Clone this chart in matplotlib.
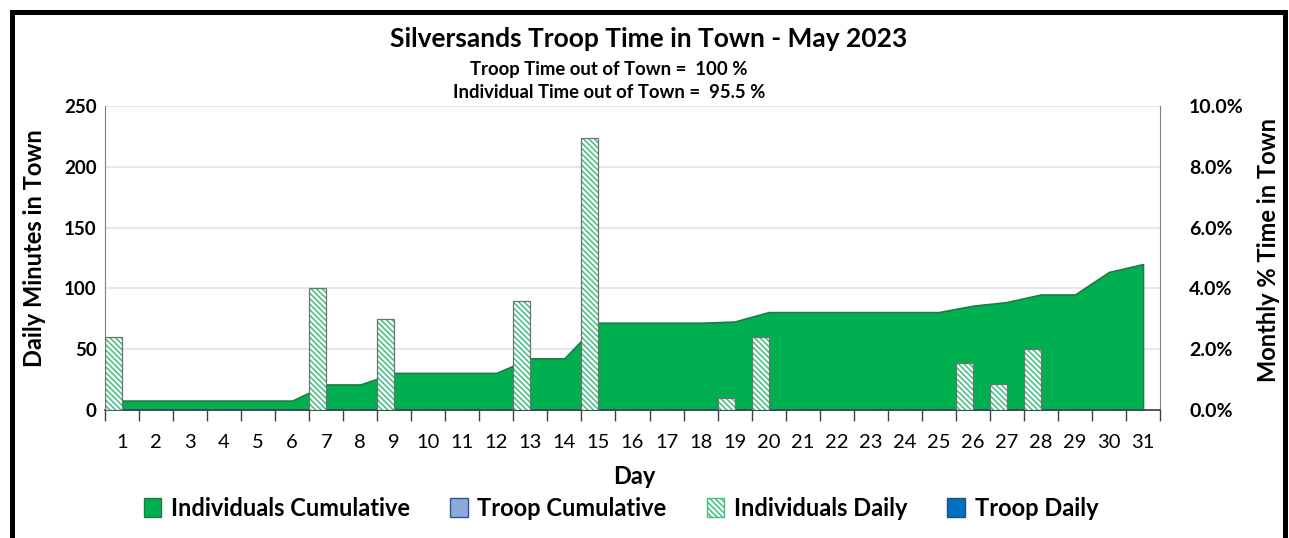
import matplotlib
matplotlib.use("Agg")
import matplotlib.pyplot as plt
from matplotlib.patches import Patch
import numpy as np

days = list(range(1, 32))
individuals_daily = [60, 0, 0, 0, 0, 0, 100, 0, 75, 0, 0, 0, 90, 0, 224, 0, 0, 0, 10, 60,
                     0, 0, 0, 0, 0, 39, 21, 50, 0, 0, 0]
troop_daily = [0] * 31
individuals_cum_pct = [0.31, 0.31, 0.31, 0.31, 0.31, 0.31, 0.84, 0.84, 1.22, 1.22, 1.22, 1.22,
                       1.70, 1.70, 2.87, 2.87, 2.87, 2.87, 2.91, 3.22, 3.22, 3.22, 3.22, 3.22,
                       3.22, 3.43, 3.55, 3.80, 3.80, 4.54, 4.80]
troop_cum_pct = [0] * 31
left_ticks = [0, 50, 100, 150, 200, 250]
right_ticks = [0, 2, 4, 6, 8, 10]

FONT = "Lato"
plt.rcParams['font.family'] = [FONT, 'DejaVu Sans']
plt.rcParams['hatch.linewidth'] = 1.1

W, H = 1289, 538
fig = plt.figure(figsize=(W / 100, H / 100), dpi=100)

# black frame
for xs, ys in (([12, 12], [538, 12]), ([12, 1285], [12, 12]), ([1285, 1285], [12, 538])):
    fig.add_artist(plt.Line2D([v / W for v in xs], [1 - v / H for v in ys],
                              transform=fig.transFigure, color='black', lw=3.6,
                              solid_capstyle='projecting'))

ax_l, ax_r, ax_t, ax_b = 105, 1160, 106, 410
rect = [ax_l / W, 1 - ax_b / H, (ax_r - ax_l) / W, (ax_b - ax_t) / H]
ax2 = fig.add_axes(rect)             # secondary (percentage), drawn underneath
ax = fig.add_axes(rect, sharex=ax2)  # primary (minutes), on top
ax.patch.set_visible(False)

x = np.arange(len(days))
green = '#00B050'
dark_green = '#1E7B45'
hatch_green = '#3EC07F'

# area (secondary axis)
ax2.fill_between(x, individuals_cum_pct, 0, color=green, edgecolor=dark_green, lw=1.2, zorder=2)
ax2.fill_between(x, troop_cum_pct, 0, color='#8EA9DB', lw=0, zorder=3)
ax2.set_ylim(0, 10)
ax2.set_yticks(right_ticks)
ax2.set_yticklabels([f"{v:.1f}%" for v in right_ticks])
ax2.yaxis.tick_right()
ax2.grid(axis='y', color='#E4E4E4', lw=1.2, zorder=0)
ax2.set_axisbelow(True)

# bars (primary axis)
ax.bar(x - 0.25, individuals_daily, width=0.5, facecolor='white', edgecolor=hatch_green,
       hatch='\\\\\\\\\\\\', lw=0, zorder=3)
ax.bar(x - 0.25, individuals_daily, width=0.5, facecolor='none', edgecolor='#707070',
       lw=0.9, zorder=4)
ax.bar(x + 0.25, troop_daily, width=0.5, color='#0070C0', lw=0, zorder=3)
ax.set_ylim(0, 250)
ax.set_yticks(left_ticks)
ax.set_xlim(-0.5, len(days) - 0.5)
ax.set_xticks(x)
ax.set_xticklabels([str(d) for d in days])
ax.set_xticks(np.arange(-0.5, len(days)), minor=True)

for a in (ax, ax2):
    for s in a.spines.values():
        s.set_visible(False)
ax.spines['left'].set_visible(True)
ax.spines['left'].set_color('#808080')
ax.spines['bottom'].set_visible(True)
ax.spines['bottom'].set_color('#3A4A5A')
ax.spines['bottom'].set_linewidth(1.3)
ax2.spines['right'].set_visible(True)
ax2.spines['right'].set_color('#808080')

ax.tick_params(axis='x', which='major', length=0, pad=17, labelsize=14.5)
ax.tick_params(axis='x', which='minor', length=8, width=1, color='#404040', direction='out')
ax.tick_params(axis='y', length=0, pad=6, labelsize=13.5)
ax2.tick_params(axis='y', length=0, pad=21, labelsize=14)
ax2.tick_params(axis='x', length=0, labelbottom=False)
for lab in ax.get_yticklabels() + ax2.get_yticklabels():
    lab.set_fontweight('bold')

# titles
fig.text(649 / W, 1 - 39 / H, "Silversands Troop Time in Town - May 2023", ha='center', va='center',
         fontsize=19, fontweight='bold')
fig.text(609 / W, 1 - 69 / H, "Troop Time out of Town =  100 %", ha='center', va='center',
         fontsize=13.3, fontweight='bold')
fig.text(609 / W, 1 - 92 / H, "Individual Time out of Town =  95.5 %", ha='center', va='center',
         fontsize=13.3, fontweight='bold')
fig.text(35 / W, 1 - 248 / H, "Daily Minutes in Town", rotation=90, ha='center', va='center',
         fontsize=17, fontweight='bold')
fig.text(1268 / W, 1 - 250 / H, "Monthly % Time in Town", rotation=90, ha='center', va='center',
         fontsize=17, fontweight='bold')
fig.text(634 / W, 1 - 476 / H, "Day", ha='center', va='center', fontsize=17, fontweight='bold')

handles = [
    Patch(facecolor=green, edgecolor=dark_green, label='Individuals Cumulative'),
    Patch(facecolor='#8EA9DB', edgecolor='#2F5597', label='Troop Cumulative'),
    Patch(facecolor='white', edgecolor=hatch_green, hatch='\\\\\\\\\\\\', label='Individuals Daily'),
    Patch(facecolor='#0070C0', edgecolor='#1F4E79', label='Troop Daily'),
]
fig.legend(handles=handles, loc='center', bbox_to_anchor=(621 / W, 1 - 508 / H), ncol=4,
           frameon=False, prop={'weight': 'bold', 'size': 17}, handlelength=0.75, handleheight=0.9,
           handletextpad=0.4, columnspacing=1.7)

fig.savefig('out.png', dpi=100)
